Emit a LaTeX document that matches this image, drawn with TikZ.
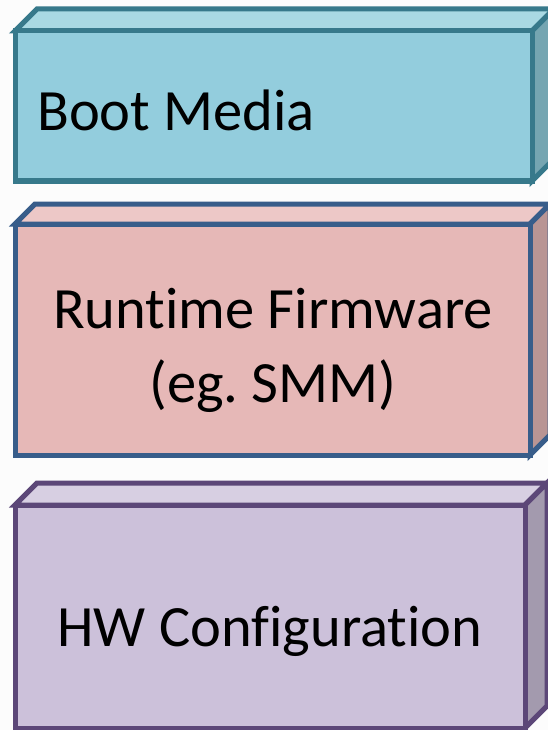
\documentclass[tikz,border=0pt]{standalone}
\usepackage{fontspec}
\setmainfont{Carlito}[Ligatures={NoCommon,NoContextual}, RawFeature={-liga;-clig;-dlig}]
\frenchspacing
\definecolor{bfront}{HTML}{93CDDD}
\definecolor{btop}{HTML}{A9D9E3}
\definecolor{bside}{HTML}{75A5B1}
\definecolor{bline}{HTML}{37798B}
\definecolor{rfront}{HTML}{E6B8B7}
\definecolor{rtop}{HTML}{EDC8C7}
\definecolor{rside}{HTML}{B99594}
\definecolor{rline}{HTML}{385D8A}
\definecolor{pfront}{HTML}{CCC1DA}
\definecolor{ptop}{HTML}{D7CFE2}
\definecolor{pside}{HTML}{A39AAE}
\definecolor{pline}{HTML}{5C4778}
\newcommand{\mycuboid}[9]{%
  % #1 x1, #2 y1, #3 x2, #4 y2, #5 depth, #6 front, #7 top, #8 side, #9 line
  \filldraw[facestyle, fill=#7, draw=#9] (#1,#2) -- ++(#5,-#5) -- (#3+#5,#2-#5) -- (#3,#2) -- cycle;
  \filldraw[facestyle, fill=#8, draw=#9] (#3,#2) -- (#3+#5,#2-#5) -- (#3+#5,#4-#5) -- (#3,#4) -- cycle;
  \filldraw[facestyle, fill=#6, draw=#9] (#1,#2) rectangle (#3,#4);
}
\tikzset{
  facestyle/.style={line width=5pt, line join=miter},
  label/.style={inner sep=0pt, font=\fontsize{58.5}{70}\selectfont, text=black}
}
\begin{document}
\begin{tikzpicture}[x=1pt,y=-1pt]
\useasboundingbox (0,0) rectangle (548,730);
\clip (0,0) rectangle (548,730);
\fill[white!99!black] (0,0) rectangle (548,730);
\mycuboid{15}{31}{532}{181}{22}{bfront}{btop}{bside}{bline}
\mycuboid{15}{224}{530}{455}{20}{rfront}{rtop}{rside}{rline}
\mycuboid{15}{505}{525}{728}{22}{pfront}{ptop}{pside}{pline}
\node[label, anchor=base west] (boot) at (37,131) {Boot Media};
\node[label, anchor=base] (rt1) at (273,328) {Runtime Firmware};
\node[label, anchor=base] (rt2) at (273,402) {(eg. SMM)};
\node[label, anchor=base] (hw) at (270,646) {HW Configuration};
\end{tikzpicture}
\end{document}
